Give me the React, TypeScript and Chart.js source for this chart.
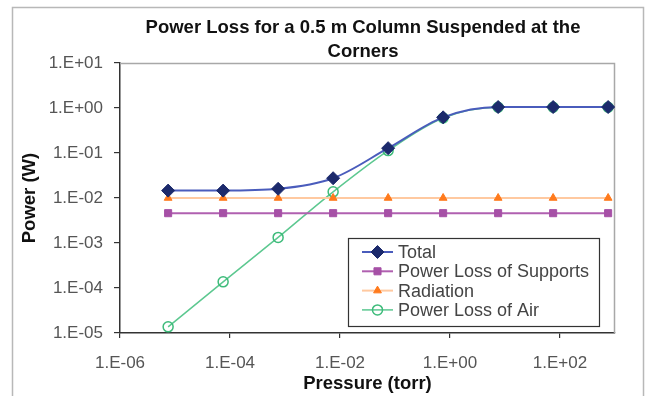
import React, { useEffect, useRef } from 'react';
import { Chart, registerables } from 'chart.js';
import { drawPoint } from 'chart.js/helpers';

Chart.register(...registerables);

const titleLines = ['Power Loss for a 0.5 m Column Suspended at the', 'Corners'];
const xAxisTitle = 'Pressure (torr)';
const yAxisTitle = 'Power (W)';

const pressures = [7.5e-6, 7.5e-5, 7.5e-4, 7.5e-3, 7.5e-2, 0.75, 7.5, 75, 750];
const total = [0.0146, 0.0146, 0.016, 0.0275, 0.128, 0.62, 1.05, 1.05, 1.05];
const supports = [0.0046, 0.0046, 0.0046, 0.0046, 0.0046, 0.0046, 0.0046, 0.0046, 0.0046];
const radiation = [0.01, 0.01, 0.01, 0.01, 0.01, 0.01, 0.01, 0.01, 0.01];
const air = [1.37e-5, 1.37e-4, 1.33e-3, 0.0137, 0.113, 0.6, 1.04, 1.04, 1.04];

const seriesLabels = ['Total', 'Power Loss of Supports', 'Radiation', 'Power Loss of Air'];

const xTickValues = [1e-6, 1e-4, 1e-2, 1, 1e2];
const xTickLabels = ['1.E-06', '1.E-04', '1.E-02', '1.E+00', '1.E+02'];
const yTickValues = [1e-5, 1e-4, 1e-3, 1e-2, 1e-1, 1, 10];
const yTickLabels = ['1.E-05', '1.E-04', '1.E-03', '1.E-02', '1.E-01', '1.E+00', '1.E+01'];

const FONT = '"Liberation Sans", Arial, sans-serif';

const pts = (ys: number[]) => pressures.map((x, i) => ({ x, y: ys[i] }));

const decorPlugin = {
  id: 'decor',
  beforeDraw(chart: any) {
    const ctx = chart.ctx;
    ctx.save();
    ctx.fillStyle = '#ffffff';
    ctx.fillRect(0, 0, chart.width, chart.height);
    ctx.strokeStyle = '#b8b8b8';
    ctx.lineWidth = 1.5;
    ctx.strokeRect(12.5, 7.5, 631, 400);
    ctx.restore();
  },
  beforeDatasetsDraw(chart: any) {
    const { ctx, chartArea: a } = chart;
    ctx.save();
    ctx.strokeStyle = '#a8a8a8';
    ctx.lineWidth = 1.5;
    ctx.beginPath();
    ctx.moveTo(a.left, a.top + 0.5);
    ctx.lineTo(a.right - 0.5, a.top + 0.5);
    ctx.lineTo(a.right - 0.5, a.bottom);
    ctx.stroke();
    ctx.restore();
  },
  afterDraw(chart: any) {
    const ctx = chart.ctx;
    ctx.save();
    // title
    ctx.fillStyle = '#111111';
    ctx.font = `bold 18.5px ${FONT}`;
    ctx.textAlign = 'center';
    ctx.textBaseline = 'alphabetic';
    ctx.fillText(titleLines[0], 363, 33);
    ctx.fillText(titleLines[1], 363, 57);

    // legend
    const bx = 348.5, by = 238.5, bw = 251, bh = 88;
    ctx.fillStyle = '#ffffff';
    ctx.fillRect(bx, by, bw, bh);
    ctx.strokeStyle = '#333333';
    ctx.lineWidth = 1.2;
    ctx.strokeRect(bx, by, bw, bh);
    chart.data.datasets.forEach((ds: any, i: number) => {
      const y = 252 + i * 19.3;
      ctx.strokeStyle = ds.borderColor;
      ctx.lineWidth = ds.borderWidth;
      ctx.beginPath();
      ctx.moveTo(362, y);
      ctx.lineTo(393, y);
      ctx.stroke();
      ctx.fillStyle = ds.pointBackgroundColor;
      ctx.strokeStyle = ds.pointBorderColor;
      ctx.lineWidth = ds.pointBorderWidth;
      drawPoint(ctx, { pointStyle: ds.pointStyle, radius: ds.pointRadius, borderWidth: ds.pointBorderWidth, rotation: 0 }, 377.5, y);
      ctx.fillStyle = '#444444';
      ctx.font = `18px ${FONT}`;
      ctx.textAlign = 'left';
      ctx.textBaseline = 'middle';
      ctx.fillText(ds.label, 398, y + 1);
    });
    ctx.restore();
  },
};

export default function App() {
  const ref = useRef<HTMLCanvasElement>(null);
  useEffect(() => {
    if (!ref.current) return;
    const chart = new Chart(ref.current, {
      type: 'line',
      data: {
        datasets: [
          {
            label: seriesLabels[0],
            data: pts(total),
            borderColor: '#4a5cbc',
            borderWidth: 2,
            pointStyle: 'rectRot',
            pointRadius: 6.5,
            pointBackgroundColor: '#1c2a6c',
            pointBorderColor: '#1c2a6c',
            pointBorderWidth: 1,
            cubicInterpolationMode: 'monotone',
          },
          {
            label: seriesLabels[1],
            data: pts(supports),
            borderColor: '#b060b0',
            borderWidth: 2,
            pointStyle: 'rect',
            pointRadius: 5,
            pointBackgroundColor: '#a650a6',
            pointBorderColor: '#a650a6',
            pointBorderWidth: 1,
            tension: 0,
          },
          {
            label: seriesLabels[2],
            data: pts(radiation),
            borderColor: '#ffc9a0',
            borderWidth: 2,
            pointStyle: 'triangle',
            pointRadius: 4.5,
            pointBackgroundColor: '#ff7a1c',
            pointBorderColor: '#ff7a1c',
            pointBorderWidth: 1,
            tension: 0,
          },
          {
            label: seriesLabels[3],
            data: pts(air),
            borderColor: '#5cc890',
            borderWidth: 1.5,
            pointStyle: 'circle',
            pointRadius: 5,
            pointBackgroundColor: 'rgba(255,255,255,0)',
            pointBorderColor: '#3dbb7a',
            pointBorderWidth: 1.5,
            cubicInterpolationMode: 'monotone',
          },
        ],
      },
      options: {
        animation: false,
        responsive: false,
        devicePixelRatio: 1,
        layout: { padding: { left: 0, top: 63, right: 32, bottom: 0 } },
        plugins: {
          legend: { display: false },
          title: { display: false },
          tooltip: { enabled: false },
        },
        scales: {
          x: {
            type: 'logarithmic',
            min: 1e-6,
            max: 1e3,
            afterBuildTicks: (s: any) => {
              s.ticks = xTickValues.map((v) => ({ value: v }));
            },
            afterFit: (s: any) => {
              s.height = 63;
            },
            ticks: {
              autoSkip: false,
              maxRotation: 0,
              padding: 15,
              color: '#555555',
              font: { family: FONT, size: 17 },
              callback: (_v: any, i: number) => xTickLabels[i],
            },
            grid: { display: true, drawOnChartArea: false, drawTicks: true, tickLength: 5, color: '#333333', lineWidth: 1.2 },
            border: { display: true, color: '#333333', width: 1.5 },
            title: {
              display: true,
              text: xAxisTitle,
              color: '#111111',
              font: { family: FONT, size: 18.5, weight: 'bold' },
              padding: { top: 0, bottom: 1 },
            },
          },
          y: {
            type: 'logarithmic',
            min: 1e-5,
            max: 10,
            afterBuildTicks: (s: any) => {
              s.ticks = yTickValues.map((v) => ({ value: v }));
            },
            afterFit: (s: any) => {
              s.width = 120;
            },
            ticks: {
              autoSkip: false,
              padding: 11,
              color: '#555555',
              font: { family: FONT, size: 17 },
              callback: (_v: any, i: number) => yTickLabels[i],
            },
            grid: { display: true, drawOnChartArea: false, drawTicks: true, tickLength: 6, color: '#333333', lineWidth: 1.2 },
            border: { display: true, color: '#333333', width: 1.5 },
            title: {
              display: true,
              text: yAxisTitle,
              color: '#111111',
              font: { family: FONT, size: 18.5, weight: 'bold' },
              padding: { top: 19, bottom: 0 },
            },
          },
        },
      },
      plugins: [decorPlugin],
    } as any);
    return () => chart.destroy();
  }, []);
  return (
    <div style={{ position: 'fixed', left: 0, top: 0, width: 647, height: 396, background: '#fff' }}>
      <canvas ref={ref} width={647} height={396} />
    </div>
  );
}
